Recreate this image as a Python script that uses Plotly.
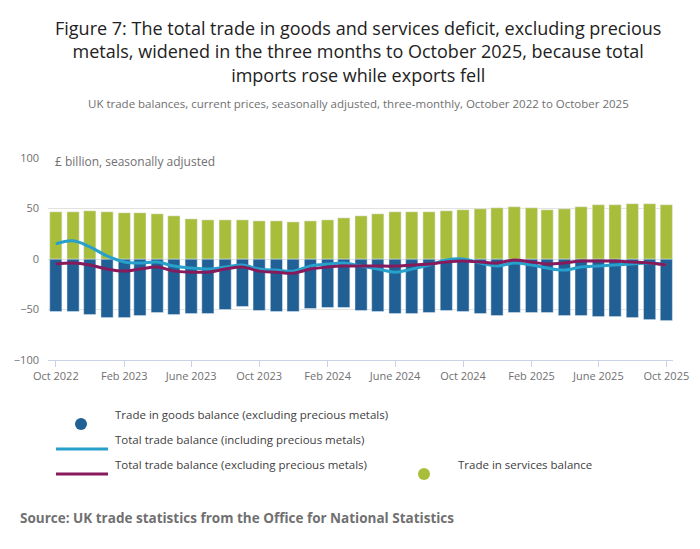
import pandas as pd
import plotly.graph_objects as go

months = pd.date_range("2022-10-01", "2025-10-01", freq="MS")

services = [46.7, 46.7, 47.7, 46.7, 45.7, 45.7, 44.7, 42.7, 39.7, 38.7, 38.7, 38.7,
            37.7, 37.7, 36.7, 37.7, 38.7, 40.7, 42.7, 44.7, 46.7, 46.7, 46.7, 47.7,
            48.7, 49.7, 50.7, 51.7, 50.7, 48.7, 49.7, 51.7, 53.7, 53.7, 54.7, 54.7, 53.7]
goods = [-52, -52, -55, -58, -58, -56, -53, -55, -54, -54, -50, -47, -51, -52, -52,
         -49, -48, -48, -51, -52, -54, -54, -53, -51, -52, -54, -56, -53, -53, -53,
         -56, -56, -57, -57, -58, -60, -61]
total_incl = [15, 18, 12, 3, -3, -4, -3, -7, -9, -10, -8, -6, -10, -11, -12, -7, -5,
              -4, -7, -10, -13, -10, -6, -1, 0, -4, -7, -4, -6, -9, -11, -8, -7, -6,
              -5, -4, -6]
total_excl = [-5, -4, -6, -10, -12, -10, -8, -12, -13, -13, -10, -8, -12, -13, -14,
              -10, -8, -7, -7, -7, -7, -6, -5, -3, -2, -3, -4, -1, -3, -5, -4, -2,
              -2, -2, -3, -4, -6]

tick_vals = months[::4]
tick_text = ["Oct 2022", "Feb 2023", "June 2023", "Oct 2023", "Feb 2024", "June 2024",
             "Oct 2024", "Feb 2025", "June 2025", "Oct 2025"]

GOODS_C = "#206095"
SERV_C = "#a8bd3a"
INCL_C = "#27a0cc"
EXCL_C = "#871a5b"

# plot area in pixels
L, R, T, B = 40, 665, 150, 352


def px(x):
    return (x - L) / (R - L)


def py(y):
    return (B - y) / (B - T)


fig = go.Figure()
fig.add_bar(x=months, y=goods, marker_color=GOODS_C, name="Trade in goods balance")
fig.add_bar(x=months, y=services, marker_color=SERV_C, name="Trade in services balance")
fig.add_scatter(x=months, y=total_incl, mode="lines", line=dict(color=INCL_C, width=3, shape="spline"))
fig.add_scatter(x=months, y=total_excl, mode="lines", line=dict(color=EXCL_C, width=3, shape="spline"))

fig.update_layout(
    width=700, height=549, barmode="relative", bargap=0.22, showlegend=False,
    plot_bgcolor="white", paper_bgcolor="white",
    font=dict(family="Open Sans", color="#414042"),
    margin=dict(l=L, r=700 - R, t=T, b=549 - B, autoexpand=False),
    xaxis=dict(tickvals=tick_vals, ticktext=tick_text, ticks="outside", ticklen=6,
               tickcolor="#c8d3e8", showline=True, linecolor="#c8d3e8", showgrid=False,
               tickfont=dict(size=11, color="#707071"),
               range=[months[0] - pd.Timedelta(days=14), months[-1] + pd.Timedelta(days=12)]),
    yaxis=dict(range=[-100, 100], tickvals=[-100, -50, 0, 50, 100], gridcolor="#e2e2e3",
               zeroline=False, tickfont=dict(size=11, color="#707071"), ticklabelstandoff=8),
)

fig.add_annotation(x=px(350), y=py(6), xref="paper", yref="paper", yanchor="top", showarrow=False,
                   text="Figure 7: The total trade in goods and services deficit, excluding precious<br>"
                        "metals, widened in the three months to October 2025, because total<br>"
                        "imports rose while exports fell",
                   font=dict(size=18, color="#222222"))
fig.add_annotation(x=px(350), y=py(86), xref="paper", yref="paper", showarrow=False,
                   text="UK trade balances, current prices, seasonally adjusted, three-monthly, October 2022 to October 2025",
                   font=dict(size=11.5, color="#707071"))
fig.add_annotation(x=px(45), y=py(143), xref="paper", yref="paper", xanchor="left",
                   showarrow=False, text="£ billion, seasonally adjusted",
                   font=dict(size=12, color="#707071"))

# legend drawn by hand
legend = [
    (73, 416, "circle", GOODS_C, "Trade in goods balance (excluding precious metals)"),
    (73, 441, "line", INCL_C, "Total trade balance (including precious metals)"),
    (73, 466, "line", EXCL_C, "Total trade balance (excluding precious metals)"),
    (416, 466, "circle", SERV_C, "Trade in services balance"),
]
for x, y, kind, col, label in legend:
    if kind == "circle":
        fig.add_shape(type="circle", xref="paper", yref="paper", x0=px(x - 6), x1=px(x + 6),
                      y0=py(y + 6), y1=py(y - 6), fillcolor=col, line_width=0)
    else:
        fig.add_shape(type="line", xref="paper", yref="paper", x0=px(x - 25), x1=px(x + 27),
                      y0=py(y), y1=py(y), line=dict(color=col, width=3))
    fig.add_annotation(x=px(x + 32), y=py(y), xref="paper", yref="paper", xanchor="left",
                       showarrow=False, text=label, font=dict(size=11.5, color="#414042"))

fig.add_annotation(x=px(10), y=py(521), xref="paper", yref="paper", xanchor="left", showarrow=False,
                   text="<b>Source: UK trade statistics from the Office for National Statistics</b>",
                   font=dict(size=13.5, color="#707071"))

fig.write_html("out.html")
